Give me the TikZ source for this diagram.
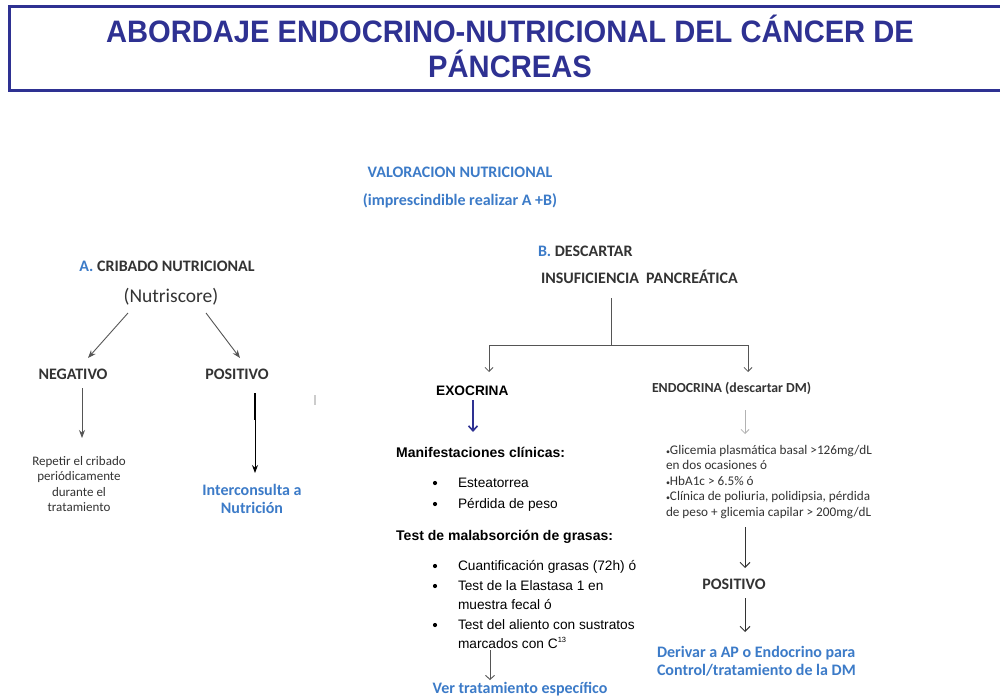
\documentclass[tikz,border=0pt]{standalone}
\usepackage{fontspec}
\setmainfont{Carlito}
\newfontfamily\arial{Liberation Sans}
\usetikzlibrary{arrows.meta,calc}
\definecolor{navy}{HTML}{2E3192}
\definecolor{lblue}{HTML}{3C7BC8}
\definecolor{tgray}{HTML}{333333}
\definecolor{lgray}{HTML}{555555}
\tikzset{
  tx/.style={inner sep=0pt,outer sep=0pt,text=tgray},
  hd/.style={tx,font=\fontsize{16}{18}\selectfont\bfseries},
  bl/.style={inner sep=0pt,outer sep=0pt,text=lblue,font=\fontsize{16}{18}\selectfont\bfseries,align=center},
  sm/.style={tx,font=\fontsize{13}{15.5}\selectfont,align=center},
  ar/.style={inner sep=0pt,outer sep=0pt,text=black,font=\arial\fontsize{13.7}{15}\selectfont},
  con/.style={draw=lgray,line width=0.9pt,-{Stealth[length=8pt,width=6pt]}},
  conb/.style={draw=black,line width=1pt,-{Stealth[length=8pt,width=6pt]}},
  cong/.style={draw=lgray,line width=0.8pt,-{Straight Barb[length=4pt,width=8pt]}},
}
\begin{document}
\begin{tikzpicture}[x=1pt,y=-1pt]
\useasboundingbox (0,0) rectangle (1000,696);
\clip (0,0) rectangle (1000,696);
\fill[white] (0,0) rectangle (1000,696);
% title
\draw[navy,line width=3pt] (9,6) rectangle (1012,90);
\node[anchor=base,inner sep=0pt,text=navy,font=\arial\bfseries\fontsize{31}{36}\selectfont,xscale=0.94,transform shape] (t1) at (510,42) {ABORDAJE ENDOCRINO-NUTRICIONAL DEL CÁNCER DE};
\node[anchor=base,inner sep=0pt,text=navy,font=\arial\bfseries\fontsize{31}{36}\selectfont,xscale=0.94,transform shape] (t2) at (510,77) {PÁNCREAS};
% header
\node[anchor=base,inner sep=0pt,text=lblue,font=\fontsize{16}{18}\selectfont\bfseries] (val) at (460,177) {VALORACION NUTRICIONAL};
\node[anchor=base,inner sep=0pt,text=lblue,font=\fontsize{16}{18}\selectfont\bfseries] (imp) at (460,205) {(imprescindible realizar A +B)};
% A branch
\node[hd,anchor=base] (a) at (167,271) {\textcolor{lblue}{A.} CRIBADO NUTRICIONAL};
\node[tx,anchor=base,font=\fontsize{19.5}{22}\selectfont] (nutri) at (171,302) {(Nutriscore)};
\node[hd,anchor=base] (neg) at (73,379) {NEGATIVO};
\node[hd,anchor=base] (pos) at (237,379) {POSITIVO};
\coordinate (n1) at (128,313);
\coordinate (n2) at (206,313);
\draw[con] (n1) -- (88,358) coordinate (n1e);
\draw[con] (n2) -- (240,358) coordinate (n2e);
\node[sm,anchor=north] (rep) at (79,456) {Repe{}tir el cribado\\periódicamente\\durante el\\tratamiento};
\node[bl,anchor=north] (inter) at (252,484) {Interconsulta a\\Nutrición};
\draw[con] (82,388) coordinate (ns) -- (82,438) coordinate (ne);
\draw[black,line width=2.2pt] (255,393) coordinate (ps) -- (255,420) coordinate (pm);
\draw[conb] (pm) -- (255,473) coordinate (pe);
\draw[gray!40,line width=1.5pt] (315,395) -- (315,405);
% B branch
\node[hd,anchor=base west] (b) at (538,256) {\textcolor{lblue}{B.} DESCARTAR};
\node[hd,anchor=base west] (ins) at (541,283) {INSUFICIENCIA\ \ PANCREÁTICA};
\coordinate (bt) at (611,298);
\coordinate (bj) at (611,345);
\coordinate (bl) at (489,345);
\coordinate (br) at (748,345);
\draw[draw=lgray,line width=0.9pt] (bt) -- (bj);
\draw[draw=lgray,line width=0.9pt] (bl) -- (br);
\draw[cong] (bl) -- (489,372) coordinate (ble);
\draw[cong] (br) -- (748,372) coordinate (bre);
\node[anchor=base west,inner sep=0pt,font=\arial\bfseries\fontsize{13.7}{15}\selectfont] (exo) at (436,395) {EXOCRINA};
\node[tx,anchor=base west,font=\fontsize{13.8}{15}\selectfont\bfseries] (endo) at (652,392) {ENDOCRINA (descartar DM)};
\draw[draw=navy,line width=1.6pt,-{Straight Barb[length=5pt,width=9pt]}] (473,400) coordinate (es) -- (473,432) coordinate (ee);
\draw[draw=gray!60,line width=0.8pt,-{Straight Barb[length=4pt,width=8pt]}] (745,410) coordinate (ds) -- (745,434) coordinate (de);
% exocrina list
\node[anchor=base west,inner sep=0pt,font=\arial\bfseries\fontsize{14}{15}\selectfont] (man) at (396,457) {Manifestaciones clínicas:};
\node[ar,anchor=base west] (e1) at (458,487) {Esteatorrea};
\node[ar,anchor=base west] (e2) at (458,508) {Pérdida de peso};
\node[anchor=base west,inner sep=0pt,font=\arial\bfseries\fontsize{14}{15}\selectfont] (tst) at (396,540) {Test de malabsorción de grasas:};
\node[ar,anchor=base west] (f1) at (458,570) {Cuantificación grasas (72h) ó};
\node[ar,anchor=base west] (f2) at (458,590) {Test de la Elastasa 1 en};
\node[ar,anchor=base west] (f3) at (458,609) {muestra fecal ó};
\node[ar,anchor=base west] (f4) at (458,629) {Test del aliento con sustratos};
\node[ar,anchor=base west] (f5) at (458,648) {marcados con C\textsuperscript{\fontsize{7.5}{8}\selectfont 13}};
\foreach \yy in {483,504,566,586,625}{\fill[black] (435,\yy) circle (2.1pt);}
\draw[draw=lgray,line width=0.9pt,-{Straight Barb[length=4pt,width=9pt]}] (490,650) coordinate (vs) -- (490,680) coordinate (ve);
\node[bl,anchor=base] (ver) at (520,693) {Ver tratamiento específico};
% endocrina list
\node[sm,anchor=north west,align=left,font=\fontsize{13.2}{15.6}\selectfont] (gl) at (666,445) {{\fontsize{8}{8}\selectfont•}Glicemia plasmática basal >126mg/dL\\en dos ocasiones ó\\{\fontsize{8}{8}\selectfont•}HbA1c > 6.5\% ó\\{\fontsize{8}{8}\selectfont•}Clínica de poliuria, polidipsia, pérdida\\de peso + glicemia capilar > 200mg/dL};
\draw[draw=black!80,line width=1pt,-{Straight Barb[length=5pt,width=10pt]}] (745,527) coordinate (g1) -- (745,568) coordinate (g2);
\node[hd,anchor=base] (pos2) at (734,589) {POSITIVO};
\draw[draw=black!80,line width=1pt,-{Straight Barb[length=5pt,width=10pt]}] (745,598) coordinate (g3) -- (745,632) coordinate (g4);
\node[bl,anchor=north west,align=left] (der) at (657,646) {Derivar a AP o Endocrino para\\Control/tratamiento de la DM};
\end{tikzpicture}
\end{document}
